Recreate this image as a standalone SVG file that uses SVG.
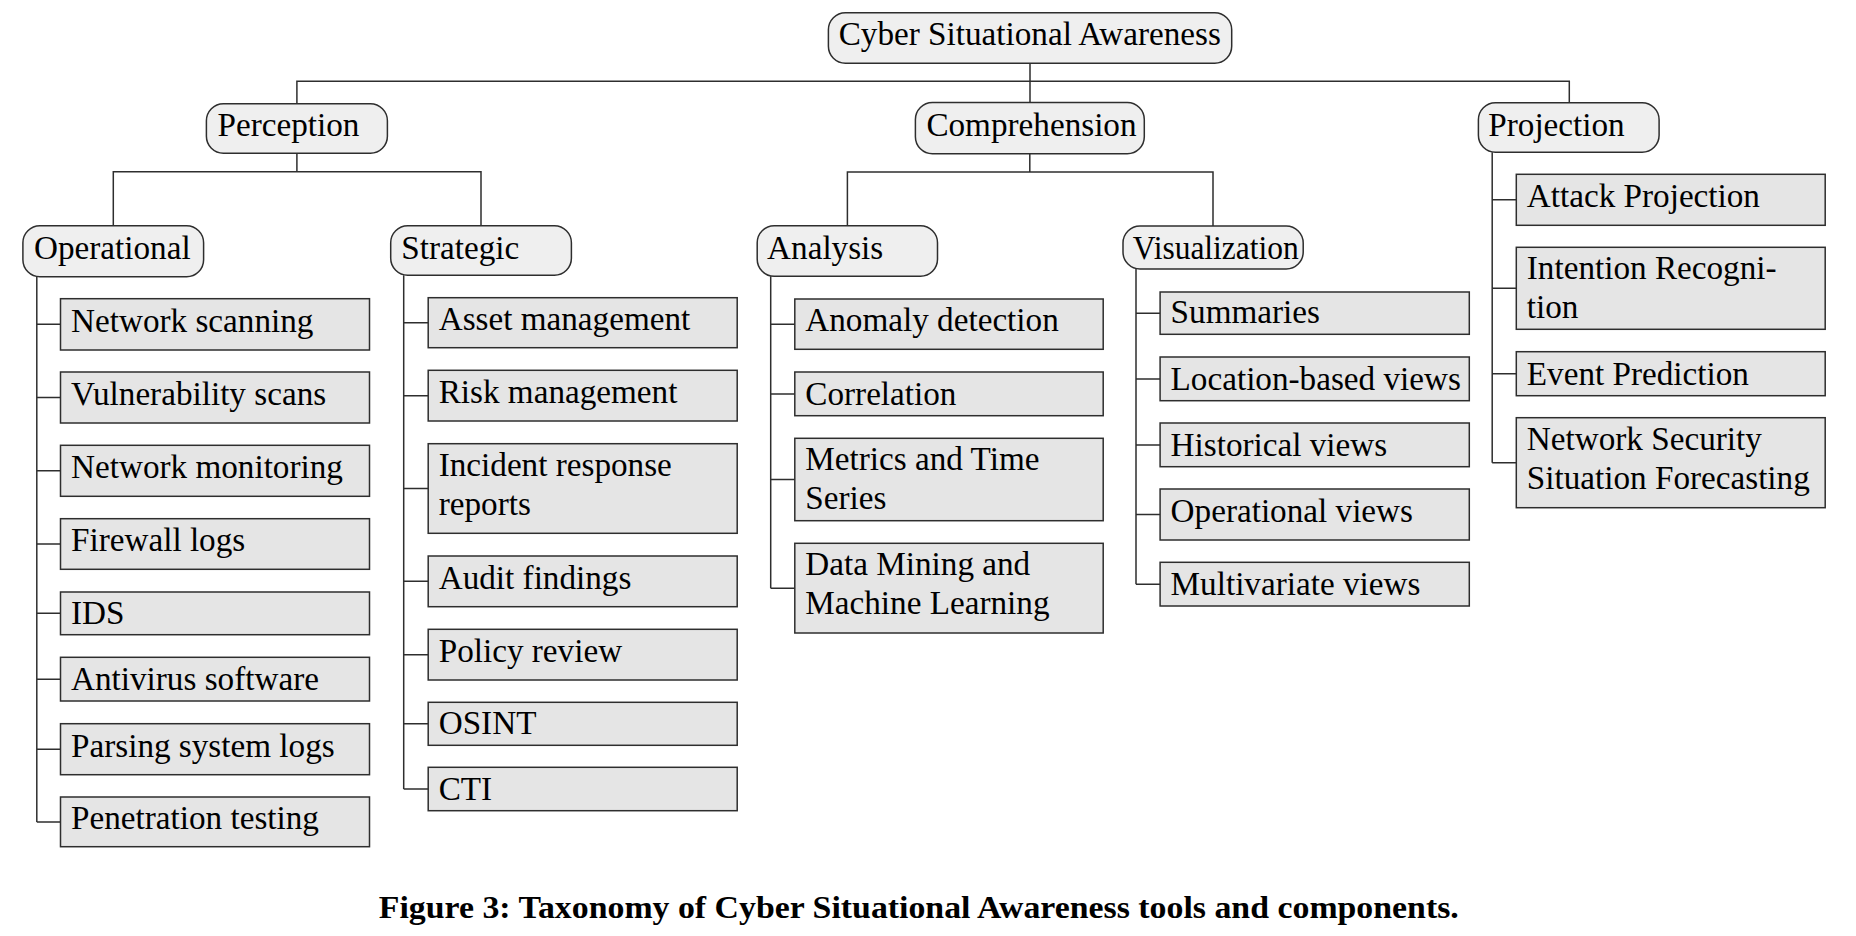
<svg xmlns="http://www.w3.org/2000/svg" width="1856" height="936" viewBox="0 0 1856 936">
<style>
.cat{fill:#efefef;stroke:#2e2e2e;stroke-width:1.5}
.item{fill:#e5e5e5;stroke:#2e2e2e;stroke-width:1.5}
.t{font-family:"Liberation Serif","Times New Roman",serif;font-size:33.2px;fill:#000}
.c{fill:none;stroke:#2e2e2e;stroke-width:1.5}
.cap{font-family:"Liberation Serif","Times New Roman",serif;font-size:32px;font-weight:bold;fill:#000}
</style>
<rect width="1856" height="936" fill="#fff"/>
<g id="connectors" class="c">
<path d="M1030,63.3V102.5M296.9,103.7V81.3H1569.3V102.7"/>
<path d="M296.9,153.3V171.7M113.3,225.7V171.7H481V225.7"/>
<path d="M1029.8,153.7V172M847.4,225.7V172H1213V226"/>
<path d="M36.8,276.7V821.9M36.8,324.3H60.5M36.8,397.5H60.5M36.8,470.8H60.5M36.8,544H60.5M36.8,613.3H60.5M36.8,679.2H60.5M36.8,749.2H60.5M36.8,821.9H60.5"/>
<path d="M403.7,275.3V789M403.7,322.7H428.2M403.7,395.7H428.2M403.7,488.5H428.2M403.7,581.3H428.2M403.7,654.7H428.2M403.7,723.8H428.2M403.7,789H428.2"/>
<path d="M770.7,276.3V588.2M770.7,324.2H794.8M770.7,393.9H794.8M770.7,479.5H794.8M770.7,588.2H794.8"/>
<path d="M1136,269V584.2M1136,313.2H1160.1M1136,378.9H1160.1M1136,444.9H1160.1M1136,514.5H1160.1M1136,584.2H1160.1"/>
<path d="M1492.2,152.3V462.7M1492.2,199.8H1516.3M1492.2,288.3H1516.3M1492.2,373.7H1516.3M1492.2,462.7H1516.3"/>
</g>
<g id="root"><rect class="cat" x="828.4" y="12.7" width="403.3" height="50.6" rx="17"/><text class="t" x="838.7" y="45">Cyber Situational Awareness</text></g>
<g id="perception"><rect class="cat" x="206.4" y="103.7" width="181" height="49.6" rx="17"/><text class="t" x="217.5" y="136">Perception</text></g>
<g id="comprehension"><rect class="cat" x="915.4" y="102.5" width="228.9" height="51.2" rx="17"/><text class="t" x="926.4" y="136">Comprehension</text></g>
<g id="projection"><rect class="cat" x="1478.4" y="102.7" width="180.7" height="49.6" rx="17"/><text class="t" x="1488.3" y="136">Projection</text></g>
<g id="operational"><rect class="cat" x="22.9" y="225.7" width="180.7" height="51" rx="17"/><text class="t" x="34" y="259.3">Operational</text></g>
<g id="strategic"><rect class="cat" x="390.7" y="225.7" width="180.7" height="49.6" rx="17"/><text class="t" x="401.3" y="259.3">Strategic</text></g>
<g id="analysis"><rect class="cat" x="757.2" y="225.7" width="180.3" height="50.6" rx="17"/><text class="t" x="767.1" y="259.3">Analysis</text></g>
<g id="visualization"><rect class="cat" x="1123" y="226" width="180.2" height="43" rx="17"/><text class="t" x="1132.8" y="259.3" textLength="166" lengthAdjust="spacingAndGlyphs">Visualization</text></g>

<g id="network-scanning"><rect class="item" x="60.5" y="298.7" width="309" height="51.3"/><text class="t" x="71" y="332">Network scanning</text></g>
<g id="vulnerability-scans"><rect class="item" x="60.5" y="372" width="309" height="51"/><text class="t" x="71" y="405">Vulnerability scans</text></g>
<g id="network-monitoring"><rect class="item" x="60.5" y="445.3" width="309" height="51"/><text class="t" x="71" y="478.3">Network monitoring</text></g>
<g id="firewall-logs"><rect class="item" x="60.5" y="518.7" width="309" height="50.6"/><text class="t" x="71" y="551.3">Firewall logs</text></g>
<g id="ids"><rect class="item" x="60.5" y="592" width="309" height="42.7"/><text class="t" x="71" y="623.7">IDS</text></g>
<g id="antivirus"><rect class="item" x="60.5" y="657.3" width="309" height="43.7"/><text class="t" x="71" y="690">Antivirus software</text></g>
<g id="parsing-logs"><rect class="item" x="60.5" y="723.7" width="309" height="51"/><text class="t" x="71" y="756.7">Parsing system logs</text></g>
<g id="penetration-testing"><rect class="item" x="60.5" y="797" width="309" height="49.7"/><text class="t" x="71" y="828.7">Penetration testing</text></g>

<g id="asset-management"><rect class="item" x="428.2" y="297.7" width="309" height="50"/><text class="t" x="438.7" y="329.7">Asset management</text></g>
<g id="risk-management"><rect class="item" x="428.2" y="370.3" width="309" height="50.7"/><text class="t" x="438.7" y="403">Risk management</text></g>
<g id="incident-response"><rect class="item" x="428.2" y="443.7" width="309" height="89.6"/><text class="t" x="438.7" y="475.7">Incident response</text><text class="t" x="438.7" y="514.7">reports</text></g>
<g id="audit-findings"><rect class="item" x="428.2" y="556" width="309" height="50.7"/><text class="t" x="438.7" y="588.7">Audit findings</text></g>
<g id="policy-review"><rect class="item" x="428.2" y="629.3" width="309" height="50.7"/><text class="t" x="438.7" y="662">Policy review</text></g>
<g id="osint"><rect class="item" x="428.2" y="702.3" width="309" height="43"/><text class="t" x="438.7" y="734.3">OSINT</text></g>
<g id="cti"><rect class="item" x="428.2" y="767.3" width="309" height="43.4"/><text class="t" x="438.7" y="799.7">CTI</text></g>

<g id="anomaly-detection"><rect class="item" x="794.8" y="299" width="308.4" height="50.3"/><text class="t" x="805.3" y="331.3">Anomaly detection</text></g>
<g id="correlation"><rect class="item" x="794.8" y="372" width="308.4" height="43.7"/><text class="t" x="805.3" y="404.7">Correlation</text></g>
<g id="metrics-time-series"><rect class="item" x="794.8" y="438.3" width="308.4" height="82.4"/><text class="t" x="805.3" y="470.3">Metrics and Time</text><text class="t" x="805.3" y="509.3">Series</text></g>
<g id="data-mining-ml"><rect class="item" x="794.8" y="543.3" width="308.4" height="89.7"/><text class="t" x="805.3" y="575.3">Data Mining and</text><text class="t" x="805.3" y="614.3">Machine Learning</text></g>

<g id="summaries"><rect class="item" x="1160.1" y="292" width="309.2" height="42.3"/><text class="t" x="1170.6" y="323.3">Summaries</text></g>
<g id="location-views"><rect class="item" x="1160.1" y="357" width="309.2" height="43.7"/><text class="t" x="1170.6" y="389.7">Location-based views</text></g>
<g id="historical-views"><rect class="item" x="1160.1" y="423" width="309.2" height="43.7"/><text class="t" x="1170.6" y="455.7">Historical views</text></g>
<g id="operational-views"><rect class="item" x="1160.1" y="489" width="309.2" height="51"/><text class="t" x="1170.6" y="522">Operational views</text></g>
<g id="multivariate-views"><rect class="item" x="1160.1" y="562.3" width="309.2" height="43.7"/><text class="t" x="1170.6" y="595">Multivariate views</text></g>

<g id="attack-projection"><rect class="item" x="1516.3" y="174.3" width="308.9" height="51"/><text class="t" x="1526.8" y="207.3">Attack Projection</text></g>
<g id="intention-recognition"><rect class="item" x="1516.3" y="247.3" width="308.9" height="82"/><text class="t" x="1526.8" y="279.3">Intention Recogni-</text><text class="t" x="1526.8" y="318.3">tion</text></g>
<g id="event-prediction"><rect class="item" x="1516.3" y="351.7" width="308.9" height="44"/><text class="t" x="1526.8" y="384.7">Event Prediction</text></g>
<g id="nssf"><rect class="item" x="1516.3" y="417.7" width="308.9" height="90"/><text class="t" x="1526.8" y="449.7">Network Security</text><text class="t" x="1526.8" y="488.7">Situation Forecasting</text></g>

<text class="cap" x="378.8" y="917.5" textLength="1080" lengthAdjust="spacingAndGlyphs">Figure 3: Taxonomy of Cyber Situational Awareness tools and components.</text>
</svg>
